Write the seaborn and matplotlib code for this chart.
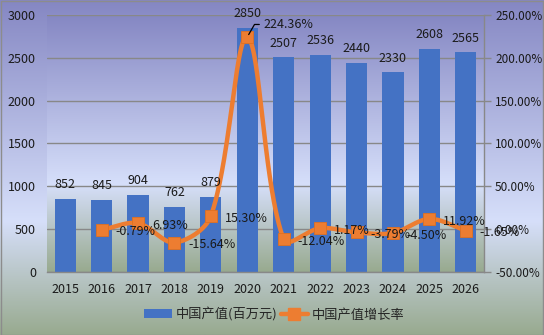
import numpy as np
import pandas as pd
import matplotlib
matplotlib.use("Agg")
import matplotlib.pyplot as plt
import seaborn as sns
from matplotlib.colors import LinearSegmentedColormap
from matplotlib.lines import Line2D
from matplotlib.patches import Patch, Rectangle
from matplotlib.ticker import FuncFormatter, MultipleLocator

# ---- data ----
years = ["2015", "2016", "2017", "2018", "2019", "2020",
         "2021", "2022", "2023", "2024", "2025", "2026"]
output = [852, 845, 904, 762, 879, 2850, 2507, 2536, 2440, 2330, 2608, 2565]
growth_years = years[1:]
growth = [-0.79, 6.93, -15.64, 15.30, 224.36, -12.04, 1.17, -3.79, -4.50, 11.92, -1.65]
bar_label = "中国产值(百万元)"
line_label = "中国产值增长率"

BLUE = "#4472C4"
ORANGE = "#ED7D31"
GRID = "#888888"
TXT = "#1a1a1a"

sns.set_theme(style="white")
plt.rcParams["font.family"] = ["Noto Sans CJK SC", "DejaVu Sans"]
plt.rcParams["font.size"] = 9

W, H = 544, 335
fig = plt.figure(figsize=(W / 100, H / 100), dpi=100)

cmap = LinearSegmentedColormap.from_list(
    "bg", [(0, "#8587c3"), (0.66, "#d6dffa"), (1, "#98aa8f")])
grad = np.linspace(0, 1, 256).reshape(-1, 1)

# figure background
bg = fig.add_axes([0, 0, 1, 1], zorder=-10)
bg.imshow(grad, aspect="auto", cmap=cmap, extent=[0, 1, 0, 1], origin="upper")
bg.set_xlim(0, 1)
bg.set_ylim(0, 1)
bg.axis("off")
fig.patches.append(Rectangle((0.5 / W, 0.5 / H), 1 - 1.5 / W, 1 - 1.5 / H,
                             transform=fig.transFigure, fill=False,
                             edgecolor="#8c8c8c", lw=1, zorder=20))

ax = fig.add_axes([47 / W, 1 - 272 / H, 437 / W, 257 / H])
ax.patch.set_visible(False)
ax.imshow(grad, aspect="auto", cmap=cmap, extent=[0, 1, 0, 1], origin="upper",
          transform=ax.transAxes, zorder=0)

df = pd.DataFrame({"year": years, "output": output})
sns.barplot(data=df, x="year", y="output", color=BLUE, saturation=1,
            width=0.58, ax=ax, zorder=2, linewidth=0, edgecolor="none")
ax.set_xlim(-0.5, len(years) - 0.5)
ax.set_ylim(0, 3000)
ax.yaxis.set_major_locator(MultipleLocator(500))
ax.yaxis.grid(True, color=GRID, lw=1)
ax.xaxis.grid(False)
ax.set_axisbelow(True)
ax.set_xlabel("")
ax.set_ylabel("")
for s in ["left", "top", "right"]:
    ax.spines[s].set_visible(False)
ax.spines["bottom"].set_color(GRID)
ax.spines["bottom"].set_linewidth(1)
ax.tick_params(axis="y", length=0, pad=8, labelsize=9, labelcolor=TXT)
ax.tick_params(axis="x", length=0, pad=8, labelsize=9, labelcolor=TXT)

# ---- growth line (smoothed like a spreadsheet chart) ----
ax2 = ax.twinx()
ax2.set_ylim(-50, 250)
ax2.yaxis.set_major_locator(MultipleLocator(50))
ax2.yaxis.set_major_formatter(FuncFormatter(lambda v, p: f"{v:.2f}%"))
for s in ["left", "top", "bottom"]:
    ax2.spines[s].set_visible(False)
ax2.spines["right"].set_color(GRID)
ax2.spines["right"].set_linewidth(1)
ax2.tick_params(axis="y", length=5, width=1, color=GRID, direction="out",
                pad=3, labelsize=8.5, labelcolor=TXT)
ax2.grid(False)

# bar value labels (drawn on top of the line)
for i, v in enumerate(output):
    ax2.annotate(str(v), (i, v), xycoords=ax.transData, xytext=(0, 5.5),
                 textcoords="offset points", ha="center", va="bottom",
                 fontsize=9, color=TXT, zorder=6)

gx = np.array([years.index(y) for y in growth_years], dtype=float)
gy = np.array(growth, dtype=float)
# screen-space scaling for length-weighted smoothing
pxx = 437 / len(years)
pxy = 257 / 300
P = np.column_stack([gx, gy])
Pext = np.vstack([P[0], P, P[-1]])


def dist(a, b):
    return np.hypot((a[0] - b[0]) * pxx, (a[1] - b[1]) * pxy)


sx, sy = [], []
t = np.linspace(0, 1, 60)
for k in range(len(P) - 1):
    p0, p1, p2, p3 = Pext[k], Pext[k + 1], Pext[k + 2], Pext[k + 3]
    d01, d12, d23 = dist(p0, p1), dist(p1, p2), dist(p2, p3)
    f1 = d12 / (d01 + d12) / 3 if d01 + d12 > 0 else 0
    f2 = d12 / (d12 + d23) / 3 if d12 + d23 > 0 else 0
    c1 = p1 + (p2 - p0) * f1
    c2 = p2 - (p3 - p1) * f2
    b = ((1 - t) ** 3)[:, None] * p1 + (3 * (1 - t) ** 2 * t)[:, None] * c1 \
        + (3 * (1 - t) * t ** 2)[:, None] * c2 + (t ** 3)[:, None] * p2
    sx.extend(b[:, 0])
    sy.extend(b[:, 1])
ax2.plot(sx, sy, color=ORANGE, lw=3.2, zorder=3, solid_capstyle="round")
ax2.plot(gx, gy, linestyle="none", marker="s", ms=9, color=ORANGE,
         markeredgecolor="#e07020", markeredgewidth=0.6, zorder=4)

for x, y in zip(gx, gy):
    txt = f"{y:.2f}%"
    if y > 100:
        ax2.annotate(txt, (x, y), xytext=(12, 9), textcoords="offset points",
                     ha="left", va="center", fontsize=9, color=TXT, zorder=6,
                     arrowprops=dict(arrowstyle="-", color="black", lw=0.9,
                                     shrinkA=1, shrinkB=2, relpos=(0, 0.5),
                                     connectionstyle="angle,angleA=180,angleB=60,rad=0"))
    else:
        ax2.annotate(txt, (x, y), xytext=(10, -1.5), textcoords="offset points",
                     ha="left", va="center", fontsize=9, color=TXT, zorder=6)

handles = [Patch(facecolor=BLUE, edgecolor="none"),
           Line2D([], [], color=ORANGE, lw=3.2, marker="s", ms=8)]
fig.legend(handles, [bar_label, line_label], loc="center",
           bbox_to_anchor=(0.505, 0.062), ncol=2, frameon=False, fontsize=9.5,
           handlelength=2.1, columnspacing=0.2, handletextpad=0.3)

fig.savefig("out.png", dpi=100)
